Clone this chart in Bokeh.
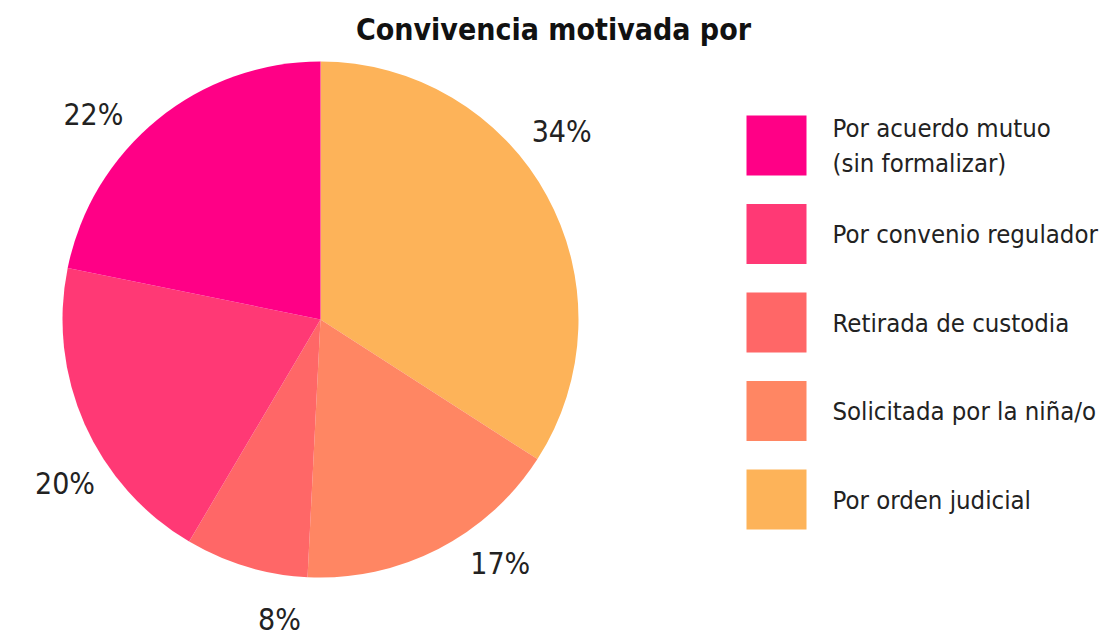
import numpy as np
from bokeh.plotting import figure
from bokeh.models import Range1d, ColumnDataSource
from bokeh.core.properties import value
from bokeh.embed import file_html
from bokeh.resources import INLINE

# Data (clockwise from 12 o'clock)
categories = ["Por orden judicial", "Solicitada por la niña/o", "Retirada de custodia",
              "Por convenio regulador", "Por acuerdo mutuo (sin formalizar)"]
percents = [34.1, 16.7, 7.7, 19.7, 21.8]
labels = ["34%", "17%", "8%", "20%", "22%"]
colors = ["#FDB359", "#FF8663", "#FF6767", "#FF3975", "#FF0086"]

legend_order = [4, 3, 2, 1, 0]
legend_text = ["Por acuerdo mutuo\n(sin formalizar)", "Por convenio regulador",
               "Retirada de custodia", "Solicitada por la niña/o", "Por orden judicial"]

FONT = "DejaVu Sans Condensed, Open Sans"
W, H = 1107, 638
p = figure(width=W, height=H, output_backend="svg", toolbar_location=None,
           x_range=Range1d(0, W), y_range=Range1d(0, H), min_border=0)
p.axis.visible = False
p.grid.visible = False
p.outline_line_color = None
p.background_fill_color = "white"

cx, cy, r = 320, H - 319, 258
frac = np.array(percents) / sum(percents)
cum = np.concatenate([[0], np.cumsum(frac)])
# clockwise from top: angle = pi/2 - 2*pi*cum
start = np.pi / 2 - 2 * np.pi * cum[1:]
end = np.pi / 2 - 2 * np.pi * cum[:-1]
src = ColumnDataSource(dict(start=start, end=end, color=colors))
p.wedge(x=cx, y=cy, radius=r, start_angle="start", end_angle="end",
        fill_color="color", line_color=None, source=src)

mid = np.pi / 2 - 2 * np.pi * (cum[:-1] + frac / 2) + np.radians(9)
lr = r * 1.18
p.text(x=cx + lr * np.cos(mid), y=cy + lr * np.sin(mid) + 2, text=labels,
       text_align="center", text_baseline="middle", text_font=value(FONT),
       text_font_size="30px", text_color="#222222")

# Title
p.text(x=[553], y=[H - 29], text=["Convivencia motivada por"], text_align="center",
       text_baseline="middle", text_font=value(FONT), text_font_style="bold",
       text_font_size="30px", text_color="#111111")

# Legend
lx, step, sz = 776, 88.5, 60
ys = [H - 145 - i * step for i in range(len(legend_order))]
p.rect(x=[lx] * 5, y=ys, width=sz, height=sz,
       fill_color=[colors[i] for i in legend_order], line_color=None)
p.text(x=[832] * 5, y=ys, text=legend_text, text_align="left", text_baseline="middle",
       text_font=value(FONT), text_font_size="25.5px", text_color="#222222",
       text_line_height=1.18)

open("out.html", "w").write(file_html(p, INLINE))
